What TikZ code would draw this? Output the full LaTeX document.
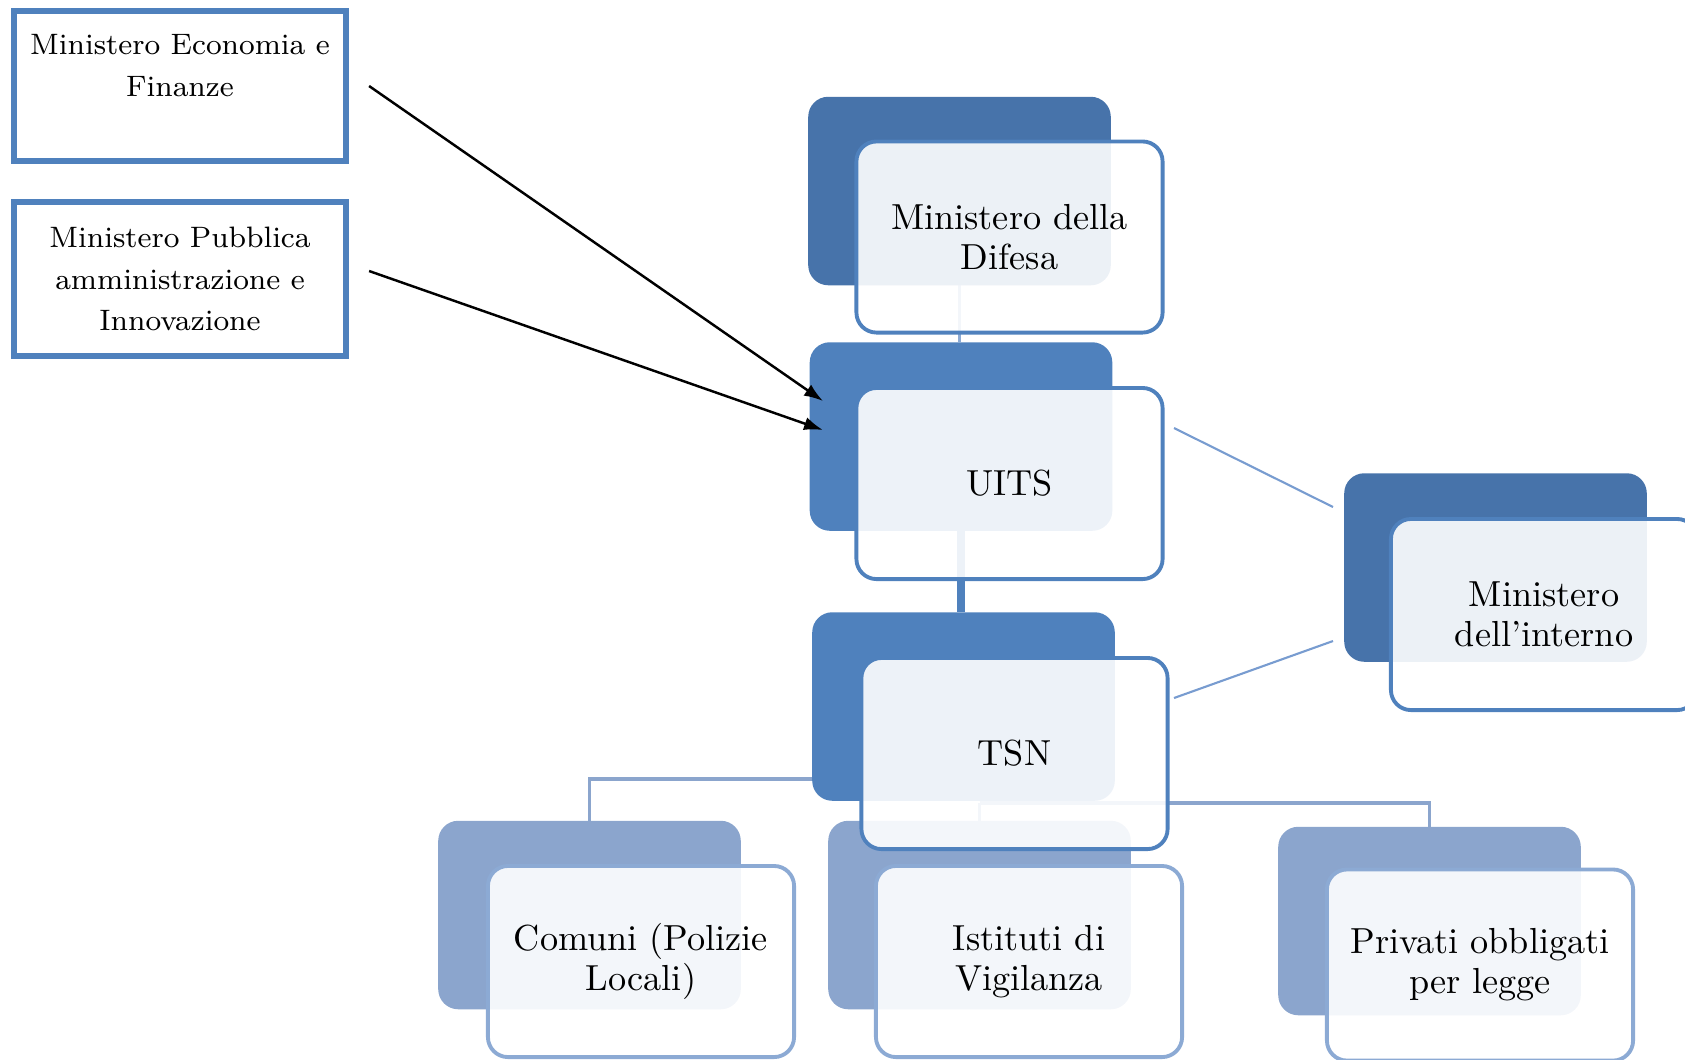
\documentclass[tikz,border=0pt]{standalone}
\usepackage{xcolor}
\definecolor{ColDark}{RGB}{71,115,170}
\definecolor{ColMid}{RGB}{79,129,189}
\definecolor{ColLight}{RGB}{139,165,205}
\definecolor{ColLightEdge}{RGB}{140,170,212}
\definecolor{ColLink}{RGB}{120,156,208}
\usepackage{tikz}
\usetikzlibrary{arrows.meta}
\tikzstyle{Side}=[rectangle,draw=ColMid,line width=1.7pt,fill=white,
minimum width=3.32cm,minimum height=1.5cm,inner sep=0pt,align=center,
font=\fontsize{8.4}{11.9}\selectfont]
\tikzstyle{Back}=[rectangle,rounded corners=5.7pt,minimum width=3.01cm,
minimum height=1.87cm,inner sep=0pt]
\tikzstyle{Front}=[rectangle,rounded corners=5.7pt,draw=ColMid,line width=1.1pt,
fill=white,fill opacity=0.9,text opacity=1,minimum width=3.06cm,
minimum height=1.91cm,inner sep=0pt,align=center,text=black,
font=\fontsize{10.3}{11.4}\selectfont]
\tikzstyle{FrontL}=[Front,draw=ColLightEdge]
\tikzstyle{Link}=[draw=ColLink,line width=0.6pt]
\tikzstyle{Bus}=[draw=ColLight,line width=1.1pt]
\tikzstyle{Arrow}=[-{Latex[length=5.4pt,width=3.8pt]},line width=0.7pt]

\begin{document}
\begin{tikzpicture}[x=.01cm,y=-.01cm]
        \useasboundingbox(0,0)rectangle(1685,1059);
        \clip(0,0)rectangle(1685,1059);
        % left boxes
        \node[Side](mef)at(180,86)
                {Ministero Economia e\\Finanze\\~};
        \node[Side,minimum height=1.54cm](mpa)at(180,279)
                {Ministero Pubblica\\amministrazione e\\Innovazione};
        % connectors
        \coordinate(j1)at(1174,428);
        \coordinate(j2)at(1333,507);
        \coordinate(j3)at(1174,698);
        \coordinate(j4)at(1333,641);
        \coordinate(jl)at(813,779);
        \coordinate(jr)at(979.5,803);
        \node[Back](difB)at(959.5,191){};
        \node[Back](uitsB)at(961,436.5){};
        \node[Back](tsnB)at(963.5,706.5){};
        \node[Back](intB)at(1495.5,567.5){};
        \node[Back](comB)at(589.5,915){};
        \node[Back](istB)at(979.5,915){};
        \node[Back](priB)at(1429.5,921){};
        \draw[Link,draw=ColLightEdge,line width=1.1pt](difB.south)--(difB.south|-uitsB.north);
        \draw[draw=ColMid,line width=2pt](uitsB.south)--(uitsB.south|-tsnB.north);
        \draw[Link](j1)--(j2);
        \draw[Link](j3)--(j4);
        \draw[Bus](jl)-|(comB.north);
        \draw[Bus](jr)-|(priB.north);
        \draw[Bus](jr)--(istB.north);
        % back boxes
        \fill[ColDark,rounded corners=5.7pt](difB.south west)rectangle(difB.north east);
        \fill[ColMid,rounded corners=5.7pt](uitsB.south west)rectangle(uitsB.north east);
        \fill[ColMid,rounded corners=5.7pt](tsnB.south west)rectangle(tsnB.north east);
        \fill[ColDark,rounded corners=5.7pt](intB.south west)rectangle(intB.north east);
        \fill[ColLight,rounded corners=5.7pt](comB.south west)rectangle(comB.north east);
        \fill[ColLight,rounded corners=5.7pt](istB.south west)rectangle(istB.north east);
        \fill[ColLight,rounded corners=5.7pt](priB.south west)rectangle(priB.north east);
        % front boxes
        \node[Front](difF)at(1009.5,237){Ministero della\\Difesa};
        \node[Front](uitsF)at(1009.5,483.5){UITS};
        \node[Front](tsnF)at(1014.5,753.5){TSN};
        \node[Front](intF)at(1544,614.5){Ministero\\dell'interno};
        \node[FrontL](comF)at(641,961.5){Comuni (Polizie\\Locali)};
        \node[FrontL](istF)at(1029,961.5){Istituti di\\Vigilanza};
        \node[FrontL](priF)at(1480,965){Privati obbligati\\per legge};
        % arrows
        \coordinate(t1)at(823,401);
        \coordinate(t2)at(823,430);
        \draw[Arrow]([xshift=.2cm]mef.east)--(t1);
        \draw[Arrow]([xshift=.2cm,yshift=.08cm]mpa.east)--(t2);
    \end{tikzpicture}
\end{document}
